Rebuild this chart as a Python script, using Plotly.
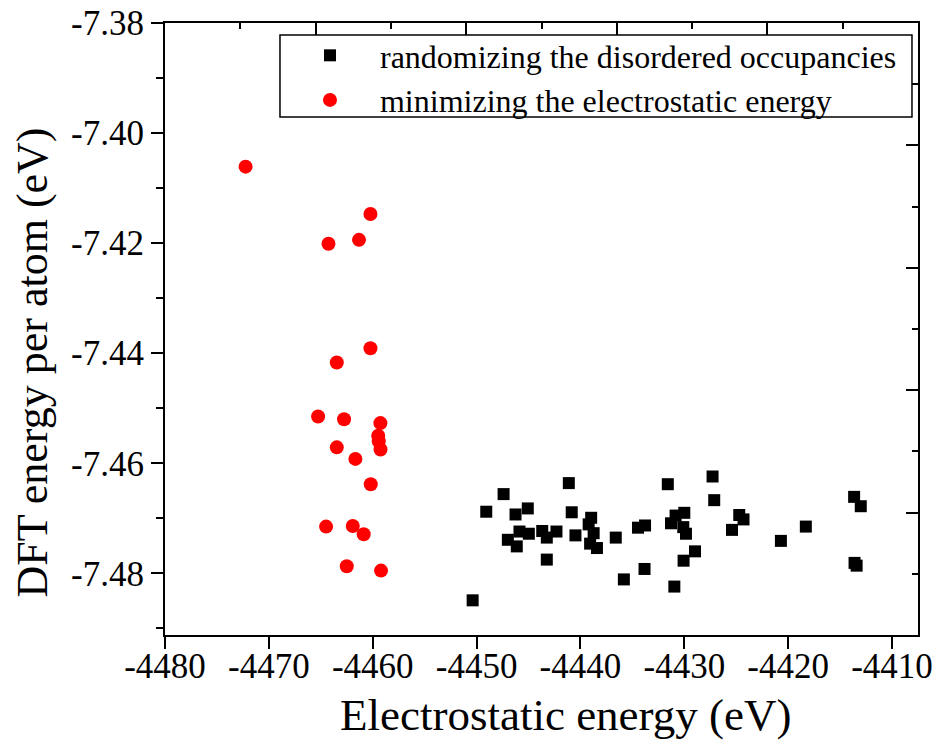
import plotly.graph_objects as go

# Randomized disordered occupancies: electrostatic energy (eV) vs DFT energy per atom (eV)
random_es = [-4450.38, -4449.07, -4447.40, -4446.25, -4445.07, -4445.87, -4444.97, -4446.99,
             -4446.13, -4443.68, -4443.24, -4442.31, -4443.24, -4441.12, -4440.84, -4440.48,
             -4438.97, -4439.21, -4438.73, -4439.07, -4438.41, -4436.60, -4435.82, -4434.46,
             -4433.78, -4433.83, -4431.59, -4431.28, -4430.84, -4430.00, -4430.10, -4429.84,
             -4428.97, -4430.07, -4430.96, -4427.28, -4427.12, -4424.71, -4424.30, -4425.41,
             -4420.70, -4418.30, -4413.65, -4413.01, -4413.61, -4413.41]
random_dft = [-7.4849, -7.4688, -7.4656, -7.4693, -7.4682, -7.4724, -7.4728, -7.4739,
              -7.4751, -7.4723, -7.4735, -7.4724, -7.4775, -7.4636, -7.4689, -7.4731,
              -7.4699, -7.4711, -7.4727, -7.4746, -7.4754, -7.4735, -7.4811, -7.4717,
              -7.4713, -7.4792, -7.4638, -7.4709, -7.4695, -7.4690, -7.4716, -7.4728,
              -7.4760, -7.4777, -7.4824, -7.4624, -7.4667, -7.4694, -7.4702, -7.4721,
              -7.4741, -7.4715, -7.4661, -7.4678, -7.4781, -7.4786]

# Structures obtained by minimizing the electrostatic energy
minimized_es = [-4472.24, -4460.22, -4461.32, -4464.26, -4460.22, -4463.46, -4465.26, -4462.76,
                -4459.26, -4459.47, -4459.42, -4459.25, -4463.46, -4461.67, -4460.19, -4464.49,
                -4461.92, -4460.87, -4462.50, -4459.20]
minimized_dft = [-7.4061, -7.4147, -7.4194, -7.4201, -7.4391, -7.4417, -7.4515, -7.4520,
                 -7.4527, -7.4550, -7.4560, -7.4575, -7.4571, -7.4592, -7.4638, -7.4715,
                 -7.4714, -7.4729, -7.4787, -7.4795]

x_ticks = [-4480, -4470, -4460, -4450, -4440, -4430, -4420, -4410]
y_ticks = [-7.38, -7.40, -7.42, -7.44, -7.46, -7.48]

FONT = "Liberation Serif"

fig = go.Figure()
fig.add_trace(go.Scatter(
    x=random_es, y=random_dft, mode="markers",
    name="randomizing the disordered occupancies",
    marker=dict(symbol="square", size=12, color="black", line=dict(width=0)),
))
fig.add_trace(go.Scatter(
    x=minimized_es, y=minimized_dft, mode="markers",
    name="minimizing the electrostatic energy",
    marker=dict(symbol="circle", size=14, color="#ff0000", line=dict(width=0)),
))
# invisible carrier for the top/right frame axes
fig.add_trace(go.Scatter(x=[0, 5], y=[0, 5], xaxis="x2", yaxis="y2", mode="markers",
                         marker=dict(opacity=0), showlegend=False, hoverinfo="skip"))

fig.update_layout(
    width=940, height=742,
    margin=dict(l=165, r=22, t=23, b=107, autoexpand=False),
    paper_bgcolor="white", plot_bgcolor="white",
    font=dict(family=FONT, color="black"),
    showlegend=True,
    legend=dict(
        x=0.1527, y=0.9918, xanchor="left", yanchor="top",
        bgcolor="rgba(0,0,0,0)", borderwidth=0,
        font=dict(family=FONT, size=32, color="black"),
        itemwidth=90, tracegroupgap=0,
    ),
    # legend frame
    shapes=[dict(type="rect", xref="paper", yref="paper",
                 x0=0.1527, x1=0.992, y0=0.8464, y1=0.9804,
                 line=dict(color="black", width=1.5), fillcolor="white", layer="above")],
    xaxis=dict(
        range=[-4480, -4407.5], tickvals=x_ticks, ticktext=[str(v) for v in x_ticks],
        ticks="outside", ticklen=12, tickwidth=2, tickcolor="black",
        ticklabelstandoff=-13,
        showline=True, linewidth=2, linecolor="black", mirror=False,
        showgrid=False, zeroline=False, automargin=False,
        tickfont=dict(family=FONT, size=35, color="black"),
    ),
    yaxis=dict(
        range=[-7.4912, -7.38], tickvals=y_ticks, ticktext=["%.2f" % v for v in y_ticks],
        ticks="outside", ticklen=12, tickwidth=2, tickcolor="black",
        minor=dict(dtick=0.01, ticks="outside", ticklen=7, tickwidth=2, tickcolor="black"),
        showline=True, linewidth=2, linecolor="black", mirror=False,
        showgrid=False, zeroline=False, automargin=False,
        tickfont=dict(family=FONT, size=35, color="black"),
    ),
    xaxis2=dict(
        overlaying="x", side="top", range=[0, 5], dtick=1,
        ticks="inside", ticklen=12, tickwidth=2, tickcolor="black",
        minor=dict(dtick=0.5, ticks="inside", ticklen=6, tickwidth=2, tickcolor="black"),
        showticklabels=False, showline=True, linewidth=2, linecolor="black",
        showgrid=False, zeroline=False, automargin=False,
    ),
    yaxis2=dict(
        overlaying="y", side="right", range=[0, 5], dtick=1,
        ticks="inside", ticklen=12, tickwidth=2, tickcolor="black",
        minor=dict(dtick=0.5, ticks="inside", ticklen=6, tickwidth=2, tickcolor="black"),
        showticklabels=False, showline=True, linewidth=2, linecolor="black",
        showgrid=False, zeroline=False, automargin=False,
    ),
    annotations=[
        dict(text="Electrostatic energy (eV)", xref="paper", yref="paper",
             x=0.5325, y=-0.131, xanchor="center", yanchor="middle", showarrow=False,
             font=dict(family=FONT, size=45, color="black")),
        dict(text="DFT energy per atom (eV)", xref="paper", yref="paper", textangle=-90,
             x=-0.176, y=0.446, xanchor="center", yanchor="middle", showarrow=False,
             font=dict(family=FONT, size=44, color="black")),
    ],
)

fig.write_html("out.html")
